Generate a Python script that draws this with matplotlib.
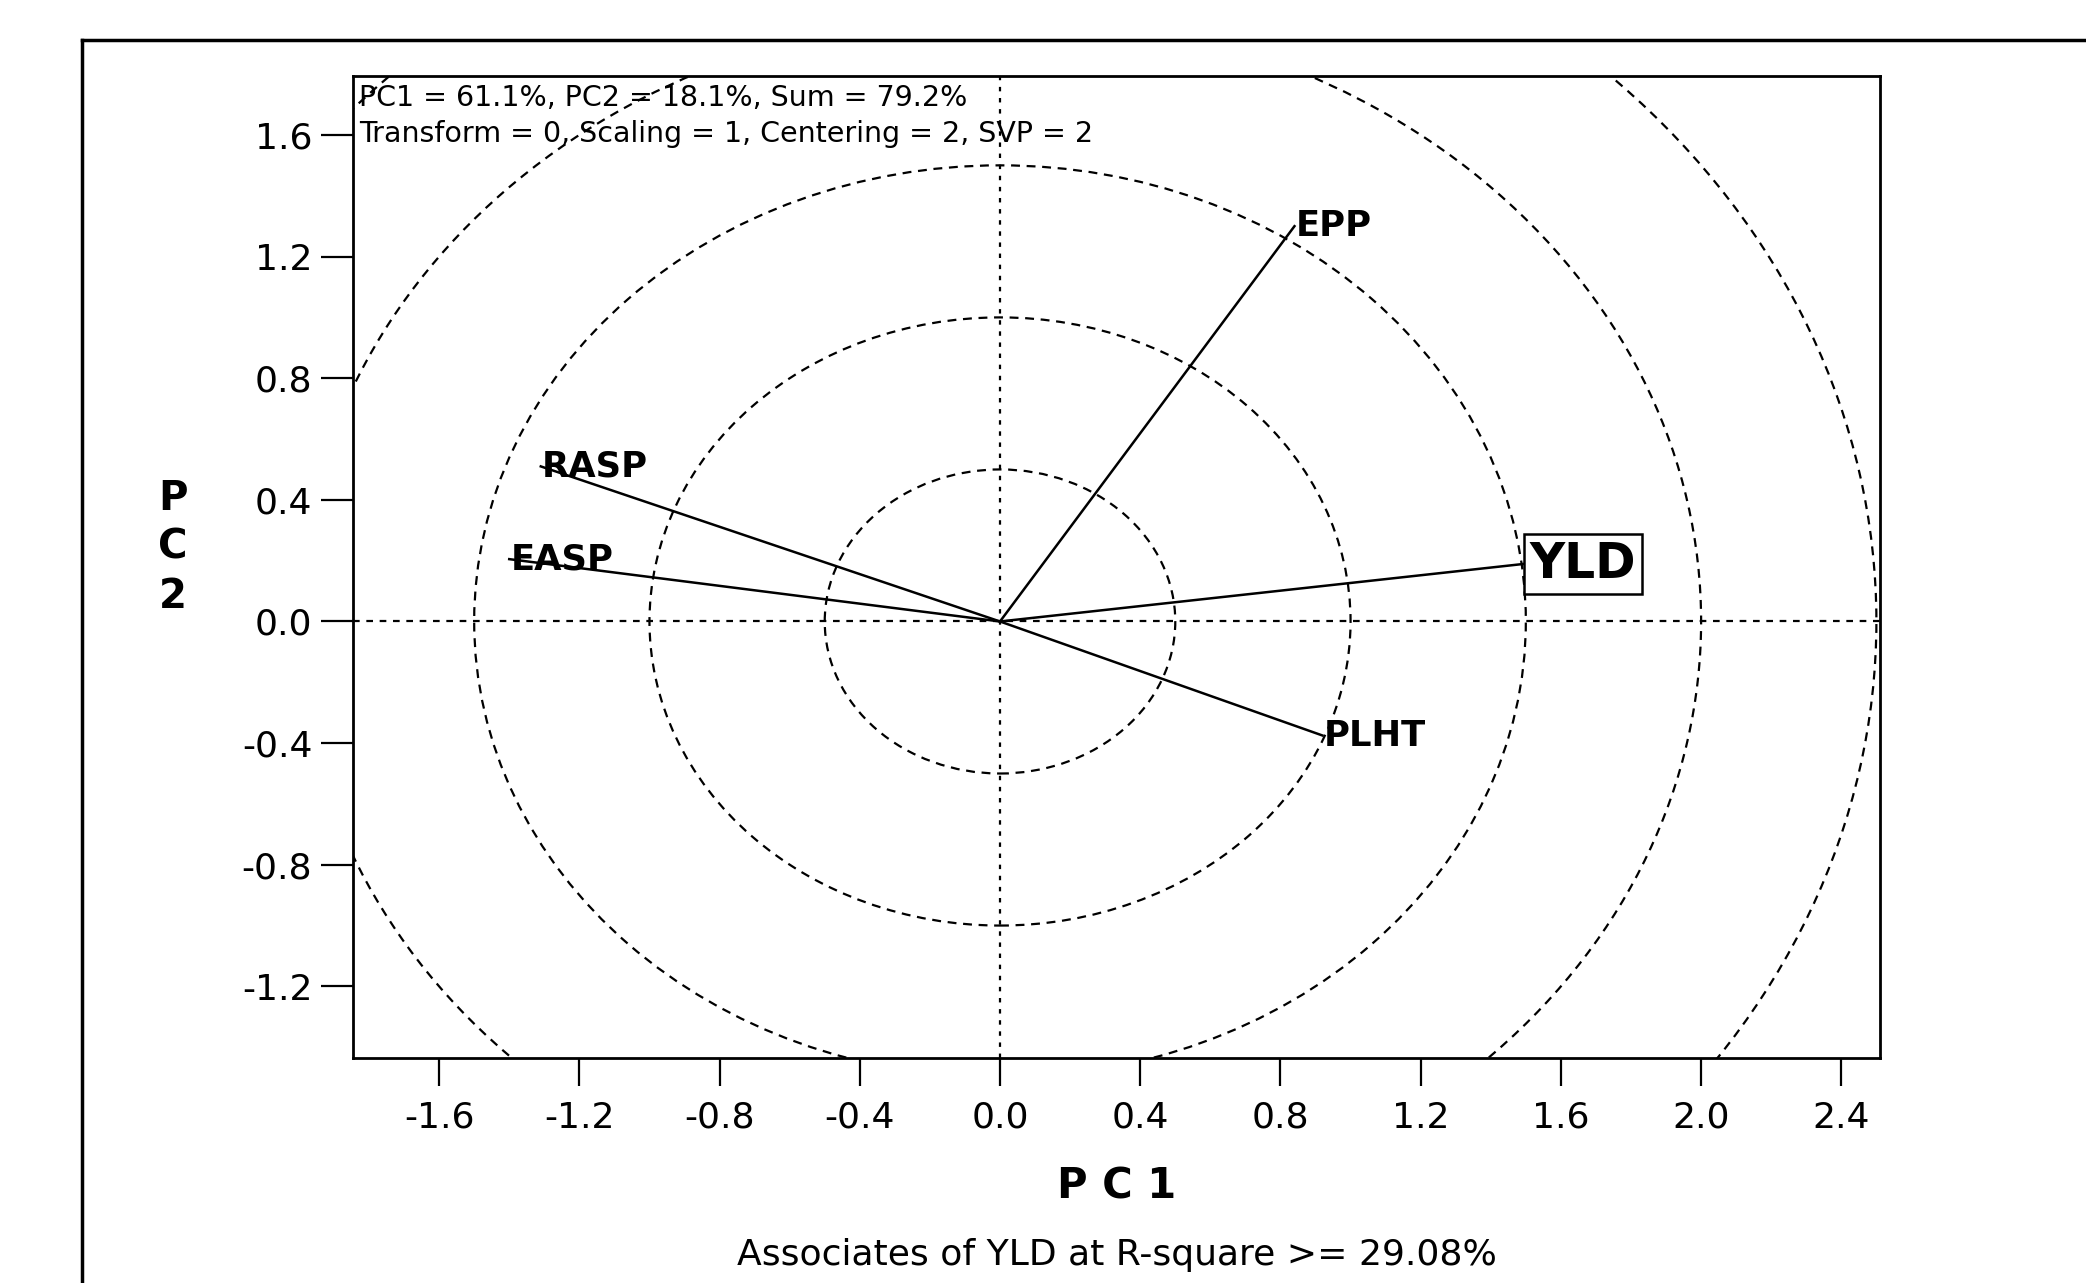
import numpy as np
import matplotlib
matplotlib.use("Agg")
import matplotlib.pyplot as plt
from matplotlib.patches import Circle
from matplotlib.lines import Line2D

# trait vectors (PC1, PC2)
traits = ['YLD', 'EPP', 'RASP', 'EASP', 'PLHT']
pc1 = [1.50, 0.84, -1.31, -1.40, 0.92]
pc2 = [0.19, 1.30, 0.51, 0.205, -0.375]

radii = [0.5, 1.0, 1.5, 2.0, 2.5]
xticks = [-1.6, -1.2, -0.8, -0.4, 0.0, 0.4, 0.8, 1.2, 1.6, 2.0, 2.4]
yticks = [-1.2, -0.8, -0.4, 0.0, 0.4, 0.8, 1.2, 1.6]

info1 = 'PC1 = 61.1%, PC2 = 18.1%, Sum = 79.2%'
info2 = 'Transform = 0, Scaling = 1, Centering = 2, SVP = 2'
subtitle = 'Associates of YLD at R-square >= 29.08%'

plt.rcParams['font.family'] = ['DejaVu Sans']

fig = plt.figure(figsize=(20.86, 12.83), dpi=100)
ax = fig.add_axes([0.1690, 0.1755, 0.7322, 0.7653])

# concentric circles around the origin
for r in radii:
    ax.add_patch(Circle((0, 0), r, fill=False, ec='black', lw=1.6,
                        ls=(0, (4, 3)), zorder=1))

ax.axhline(0, color='black', lw=1.6, ls=(0, (3, 3)), zorder=1)
ax.axvline(0, color='black', lw=1.6, ls=(0, (2, 3)), zorder=1)

for name, x, y in zip(traits, pc1, pc2):
    ax.plot([0, x], [0, y], color='black', lw=1.8, zorder=2)
    if name == 'YLD':
        ax.annotate(name, (x, y), xytext=(3, 0), textcoords='offset points',
                    ha='left', va='center', fontsize=35, fontweight='bold',
                    bbox=dict(boxstyle='square,pad=0.12', fc='white',
                              ec='black', lw=1.8))
    else:
        ax.annotate(name, (x, y), xytext=(1, 0), textcoords='offset points',
                    ha='left', va='center', fontsize=25.5, fontweight='bold')

ax.set_xlim(-1.847, 2.51)
ax.set_ylim(-1.435, 1.794)
ax.set_xticks(xticks)
ax.set_yticks(yticks)
ax.set_xticklabels(['%.1f' % v for v in xticks])
ax.set_yticklabels(['%.1f' % v for v in yticks])
ax.tick_params(axis='x', length=20, width=1.6, labelsize=26, pad=11)
ax.tick_params(axis='y', length=23, width=1.6, labelsize=26, pad=6)
for s in ax.spines.values():
    s.set_linewidth(2)

ax.text(0.004, 0.992, info1, transform=ax.transAxes, fontsize=20.5,
        ha='left', va='top')
ax.text(0.004, 0.955, info2, transform=ax.transAxes, fontsize=20.5,
        ha='left', va='top')

fig.text(0.5355, 0.075, 'P C 1', ha='center', va='center', fontsize=30,
         fontweight='bold')
fig.text(0.083, 0.573, 'P\nC\n2', ha='center', va='center', fontsize=29,
         fontweight='bold', linespacing=1.3)
fig.text(0.5355, 0.022, subtitle, ha='center', va='center', fontsize=26)

# outer frame
fig.add_artist(Line2D([0.0393, 1.0], [0.969, 0.969], color='black', lw=2.5))
fig.add_artist(Line2D([0.0393, 0.0393], [0.0, 0.969], color='black', lw=2.5))

fig.savefig('out.png', dpi=100)
